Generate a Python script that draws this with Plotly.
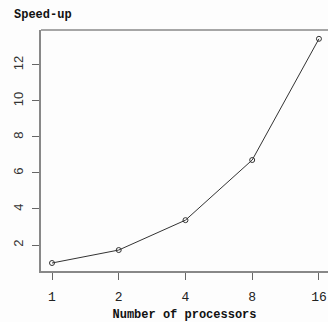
import plotly.graph_objects as go

processors = [1, 2, 4, 8, 16]
speedup = [1.0, 1.72, 3.38, 6.72, 13.45]
x_tick_labels = ["1", "2", "4", "8", "16"]
y_ticks = [2, 4, 6, 8, 10, 12]

fig = go.Figure()
fig.add_trace(go.Scatter(
    x=processors, y=speedup, mode="lines+markers",
    line=dict(color="#333333", width=1),
    marker=dict(symbol="circle-open", size=5, color="#333333", line=dict(width=1)),
    showlegend=False, cliponaxis=False,
))

mono = "Liberation Mono, DejaVu Sans Mono, monospace"
fig.update_layout(
    width=328, height=322,
    margin=dict(l=41, r=0, t=30, b=51),
    paper_bgcolor="#fdfdfd", plot_bgcolor="#fdfdfd",
    xaxis=dict(
        type="log", range=[-0.0496, 1.245], automargin=False,
        tickvals=processors, ticktext=x_tick_labels,
        showgrid=False, zeroline=False,
        showline=True, linecolor="#888888", linewidth=1.5,
        ticks="outside", ticklen=7, tickcolor="#666666", tickwidth=1,
        ticklabelstandoff=6, ticklabeloverflow="allow",
        tickfont=dict(family=mono, size=13, color="#222222"),
        title=dict(text="<b>Number of processors</b>", font=dict(family=mono, size=12, color="#111111"), standoff=12),
    ),
    yaxis=dict(
        range=[0.556, 13.94], automargin=False,
        tickvals=y_ticks,
        showgrid=False, zeroline=False,
        showline=True, linecolor="#888888", linewidth=1.5,
        ticks="outside", ticklen=7, tickcolor="#666666", tickwidth=1,
        tickangle=-90, ticklabelstandoff=4,
        tickfont=dict(family="Liberation Sans, Arial, sans-serif", size=13, color="#333333"),
    ),
    shapes=[dict(type="line", xref="paper", yref="paper", x0=0, x1=1, y0=1, y1=1,
                 line=dict(color="#888888", width=1.5))],
    annotations=[dict(text="<b>Speed-up</b>", xref="paper", yref="paper",
                      x=(12 - 41) / 287, y=1 + 15 / 241, xanchor="left", yanchor="middle",
                      showarrow=False, font=dict(family=mono, size=12, color="#111111"))],
)

fig.write_html(
    "out.html",
    config={"displayModeBar": False},
    post_script="document.body.style.margin='0';document.documentElement.style.overflow='hidden';document.body.style.overflow='hidden';",
)
